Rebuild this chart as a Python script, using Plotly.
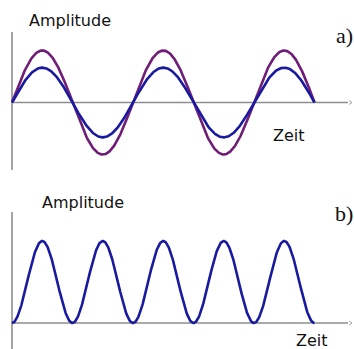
import numpy as np
import plotly.graph_objects as go

W, H = 354, 349

# Signal parameters (time in periods of the fundamental wave)
n_periods = 2.5
amp_purple = 1.0
amp_blue = 0.67
labels_y = ["Amplitude", "Amplitude"]
labels_x = ["Zeit", "Zeit"]
panel_tags = ["a)", "b)"]

t = np.linspace(0, n_periods, 600)
wave_purple = amp_purple * np.sin(2 * np.pi * t)
wave_blue = amp_blue * np.sin(2 * np.pi * t)
intensity = np.sin(2 * np.pi * t) ** 2

PURPLE = "#6F1D77"
BLUE = "#1A1AA0"
AXIS = "#8E8E8E"

# axis scale: 121 px per period, origin 12 px from the left edge
px_per_period = 121.0
x0_px = 12.0
x_range = [-x0_px / px_per_period, (W - x0_px) / px_per_period]

# top panel: zero line at 102.5 px, 52 px per unit; domain is upper half
top_zero, top_scale = 102.5, 52.0
top_range = [(top_zero - H / 2) / top_scale, top_zero / top_scale]
# bottom panel: zero line at 323 px, 82 px per unit; domain is lower half
bot_zero, bot_scale = 323.0, 82.0
bot_range = [(bot_zero - H) / bot_scale, (bot_zero - H / 2) / bot_scale]

fig = go.Figure()
fig.add_trace(go.Scatter(x=t, y=wave_purple, mode="lines",
                         line=dict(color=PURPLE, width=2.6), xaxis="x", yaxis="y"))
fig.add_trace(go.Scatter(x=t, y=wave_blue, mode="lines",
                         line=dict(color=BLUE, width=2.6), xaxis="x", yaxis="y"))
fig.add_trace(go.Scatter(x=t, y=intensity, mode="lines",
                         line=dict(color=BLUE, width=2.6), xaxis="x2", yaxis="y2"))


def px(x, y):
    return x / W, 1 - y / H


def hidden_axis(rng, dom, anchor):
    return dict(range=rng, domain=dom, anchor=anchor, visible=False,
                showgrid=False, zeroline=False, fixedrange=True)


shapes = []
axis_end_t = (348 - x0_px) / px_per_period
# top panel axes
shapes.append(dict(type="line", xref="x", yref="y", x0=0, x1=0,
                   y0=(top_zero - 170) / top_scale, y1=(top_zero - 32) / top_scale,
                   line=dict(color=AXIS, width=1.6), layer="below"))
shapes.append(dict(type="line", xref="x", yref="y", x0=0, x1=axis_end_t, y0=0, y1=0,
                   line=dict(color=AXIS, width=1.6), layer="below"))
# bottom panel axes
shapes.append(dict(type="line", xref="x2", yref="y2", x0=0, x1=0,
                   y0=bot_range[0], y1=(bot_zero - 212) / bot_scale,
                   line=dict(color=AXIS, width=1.6), layer="below"))
shapes.append(dict(type="line", xref="x2", yref="y2", x0=0, x1=axis_end_t, y0=0, y1=0,
                   line=dict(color=AXIS, width=1.6), layer="below"))
# small arrow tips
for yz in (top_zero, bot_zero):
    a = px(349, yz - 2)
    b = px(352, yz)
    c = px(349, yz + 2)
    shapes.append(dict(type="path", xref="paper", yref="paper",
                       path=f"M {a[0]} {a[1]} L {b[0]} {b[1]} L {c[0]} {c[1]}",
                       line=dict(color=AXIS, width=0.8)))

annotations = []


def text(s, x, y, size, family, xanchor="center"):
    xp, yp = px(x, y)
    annotations.append(dict(text=s, x=xp, y=yp, xref="paper", yref="paper",
                            xanchor=xanchor, yanchor="middle", showarrow=False,
                            font=dict(size=size, family=family, color="#111111")))


sans = "DejaVu Sans"
serif = "Liberation Serif"
text(labels_y[0], 70, 21, 16, sans)
text(labels_y[1], 83, 203, 16, sans)
text(labels_x[0], 289, 135, 16, sans)
text(labels_x[1], 312, 340, 16, sans)
text(panel_tags[0], 355, 35, 22, serif, xanchor="right")
text(panel_tags[1], 355, 213, 22, serif, xanchor="right")

fig.update_layout(
    width=W, height=H,
    margin=dict(l=0, r=0, t=0, b=0),
    paper_bgcolor="white", plot_bgcolor="rgba(0,0,0,0)",
    showlegend=False,
    xaxis=hidden_axis(x_range, [0, 1], "y"),
    yaxis=hidden_axis(top_range, [0.5, 1], "x"),
    xaxis2=hidden_axis(x_range, [0, 1], "y2"),
    yaxis2=hidden_axis(bot_range, [0, 0.5], "x2"),
    shapes=shapes,
    annotations=annotations,
)

fig.write_html("out.html")
